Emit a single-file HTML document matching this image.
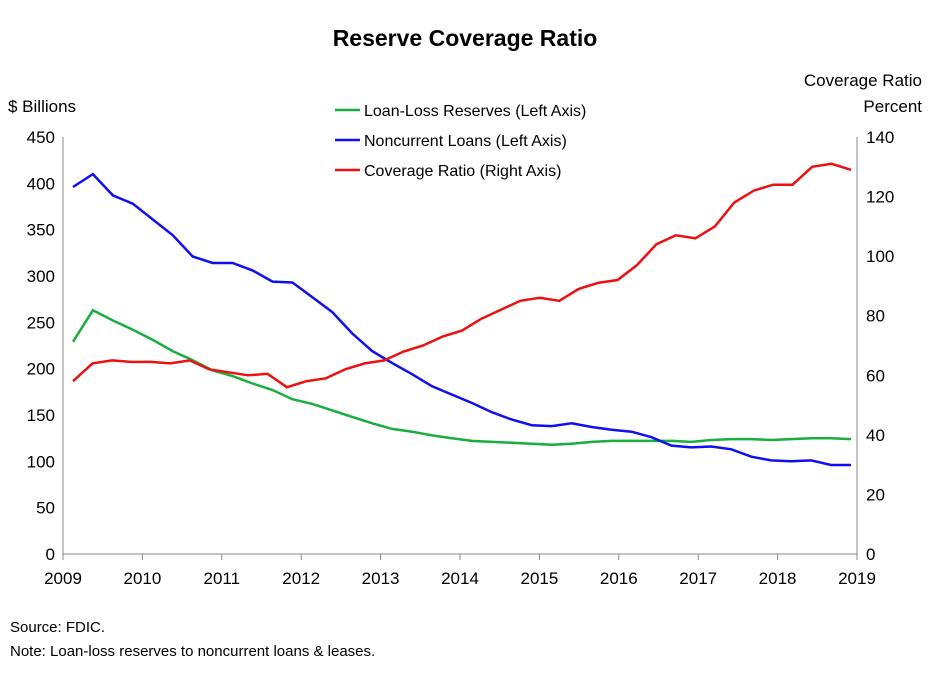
<!DOCTYPE html>
<html><head><style>
body{margin:0;background:#fff;}
svg{display:block;font-family:"Liberation Sans",sans-serif;}
</style></head><body>
<svg width="930" height="676" viewBox="0 0 930 676" xmlns="http://www.w3.org/2000/svg">
<text x="465" y="46" text-anchor="middle" font-size="23" font-weight="bold">Reserve Coverage Ratio</text>
<text x="8" y="112" font-size="17">$ Billions</text>
<text x="922" y="86" font-size="17" text-anchor="end">Coverage Ratio</text>
<text x="922" y="112" font-size="17" text-anchor="end">Percent</text>
<g font-size="17" text-anchor="end" id="ly"></g>
<g font-size="17" id="ry"></g>
<g font-size="17" text-anchor="middle" id="xl"></g>
<line x1="63" y1="137" x2="63" y2="554" stroke="#888"/>
<line x1="857" y1="137" x2="857" y2="554" stroke="#888"/>
<line x1="63" y1="554" x2="857" y2="554" stroke="#888"/>
<g id="ticks" stroke="#888"></g>
<polyline id="g" fill="none" stroke="#1aad3f" stroke-width="2.5"/>
<polyline id="b" fill="none" stroke="#1010ee" stroke-width="2.5"/>
<polyline id="r" fill="none" stroke="#ee1010" stroke-width="2.5"/>
<line x1="335" y1="110" x2="360" y2="110" stroke="#1aad3f" stroke-width="2.5"/>
<line x1="335" y1="140" x2="360" y2="140" stroke="#1010ee" stroke-width="2.5"/>
<line x1="335" y1="170" x2="360" y2="170" stroke="#ee1010" stroke-width="2.5"/>
<text x="364" y="116" font-size="16">Loan-Loss Reserves (Left Axis)</text>
<text x="364" y="146" font-size="16">Noncurrent Loans (Left Axis)</text>
<text x="364" y="176" font-size="16">Coverage Ratio (Right Axis)</text>
<text x="10" y="632" font-size="15">Source:  FDIC.</text>
<text x="10" y="656" font-size="15">Note: Loan-loss reserves to noncurrent  loans &amp; leases.</text>
</svg>
<script>
var ns="http://www.w3.org/2000/svg";
function el(p,t,a,txt){var e=document.createElementNS(ns,t);for(var k in a)e.setAttribute(k,a[k]);if(txt!=null)e.textContent=txt;document.getElementById(p).appendChild(e);}
for(var v=0;v<=450;v+=50){var y=554-v*417/450;el("ly","text",{x:55,y:y+6},v);}
for(var v=0;v<=140;v+=20){var y=554-v*417/140;el("ry","text",{x:866,y:y+6},v);}
for(var i=0;i<=10;i++){var x=63+i*79.4;el("xl","text",{x:x,y:584},2009+i);el("ticks","line",{x1:x,y1:554,x2:x,y2:560});}
var G=[229,263,252,242,231,219,209,198,192,184,177,167,162,155,148,141,135,132,128,125,122,121,120,119,118,119,121,122,122,122,122,121,123,124,124,123,124,125,125,124];
var B=[396,410,387,378,361,344,321,314,314,306,294,293,277,261,238,219,206,194,181,172,163,153,145,139,138,141,137,134,132,126,117,115,116,113,105,101,100,101,96,96];
var R=[58,64,65,64.5,64.5,64,65,62,61,60,60.5,56,58,59,62,64,65,68,70,73,75,79,82,85,86,85,89,91,92,97,104,107,106,110,118,122,124,124,130,131,129];
function pts(a,s,n){var st=(851-73)/(a.length-1);return a.map(function(v,i){return (73+i*st).toFixed(1)+","+(554-v*s).toFixed(1)}).join(" ");}
document.getElementById("g").setAttribute("points",pts(G,417/450));
document.getElementById("b").setAttribute("points",pts(B,417/450));
document.getElementById("r").setAttribute("points",pts(R,417/140));
</script>
</body></html>
